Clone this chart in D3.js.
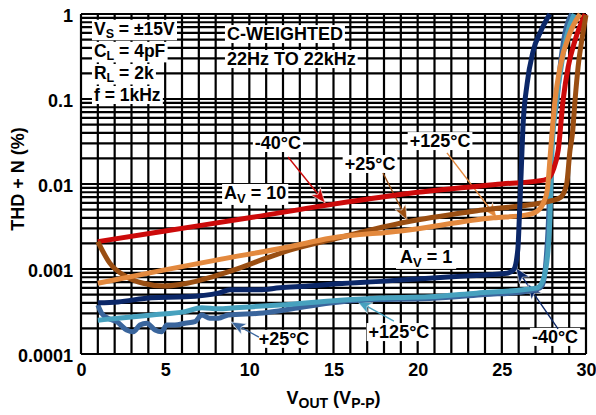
<!DOCTYPE html>
<html>
<head>
<meta charset="utf-8">
<script src="https://cdn.jsdelivr.net/npm/d3@7"></script>
<style>
  html, body { margin: 0; padding: 0; background: #fff; }
  svg { display: block; }
  text { font-family: "Liberation Sans", Arial, sans-serif; font-weight: bold; fill: #000; }
</style>
</head>
<body>
<svg id="chart" width="596" height="415"></svg>
<script>
// ---------- DATA ----------
const xTicks = [0, 5, 10, 15, 20, 25, 30];
const yTicks = [1, 0.1, 0.01, 0.001, 0.0001];
const yTickLabels = ["1", "0.1", "0.01", "0.001", "0.0001"];

// AV = 10, -40°C (red)
const red40X = [1, 5, 10, 15, 20, 25, 27.5, 27.8, 28.05, 28.35, 28.64, 28.94, 29.35, 29.95];
const red40Y = [0.0021, 0.0028, 0.0040, 0.0058, 0.0080, 0.0100, 0.0111, 0.0118, 0.0146, 0.025, 0.097, 0.238, 0.49, 1.0];

// AV = 10, +25°C (brown)
const brown25X = [1, 1.7, 2.7, 3.7, 4.9, 6.3, 7.8, 9.45, 11.05, 12.4, 14.8, 19.4, 23.7, 28.0, 28.5, 28.85, 29.05, 29.2, 29.35, 29.53, 29.82, 30.0];
const brown25Y = [0.0021, 0.00118, 0.00081, 0.00068, 0.00063, 0.00068, 0.00081, 0.00103, 0.00135, 0.00167, 0.0022, 0.0036, 0.0049, 0.0064, 0.0070, 0.0100, 0.025, 0.04, 0.097, 0.238, 0.6, 0.97];

// AV = 10, +125°C (orange)
const orange125X = [1, 4.9, 8.1, 12.4, 14.8, 19, 24.5, 26.4, 27.1, 27.5, 27.7, 27.9, 28.16, 28.46, 29.05, 29.65];
const orange125Y = [0.00068, 0.00097, 0.00128, 0.00183, 0.0023, 0.0028, 0.0040, 0.0043, 0.0048, 0.0062, 0.0085, 0.025, 0.097, 0.238, 0.6, 1.0];

// AV = 1, -40°C (navy)
const navy40X = [1, 2.2, 4.2, 6.2, 8.16, 8.85, 10.6, 11.8, 13.5, 15.2, 18, 20.7, 23, 25.3, 25.7, 25.95, 26.05, 26.15, 26.25, 26.5, 26.85, 27.3, 27.85];
const navy40Y = [0.00040, 0.00041, 0.00046, 0.00047, 0.00052, 0.00057, 0.00057, 0.0006, 0.00063, 0.00067, 0.00072, 0.00078, 0.00083, 0.00089, 0.00098, 0.0017, 0.0045, 0.014, 0.045, 0.15, 0.36, 0.62, 1.0];

// AV = 1, +25°C (mid blue)
const blue25X = [1, 1.23, 1.62, 2.12, 2.71, 3.11, 3.5, 3.9, 4.4, 4.79, 5.09, 5.58, 6.18, 6.77, 7.17, 7.66, 8.16, 8.75, 10.81, 12.83, 14.79, 16.75, 20.7, 24, 26.3, 27.1, 27.4, 27.6, 27.75, 27.9, 28.0, 28.28, 28.46, 28.75, 29.15];
const blue25Y = [0.000377, 0.000301, 0.000263, 0.00024, 0.000192, 0.000183, 0.000219, 0.00023, 0.000192, 0.000183, 0.000219, 0.000219, 0.00023, 0.00024, 0.000288, 0.000263, 0.000263, 0.000288, 0.000303, 0.000348, 0.000398, 0.000432, 0.00045, 0.0005, 0.00054, 0.00058, 0.00064, 0.0011, 0.003, 0.015, 0.04, 0.097, 0.238, 0.6, 1.0];

// AV = 1, +125°C (teal)
const teal125X = [1, 2.2, 4.2, 6.18, 7.17, 8.16, 9.15, 11.82, 15.39, 17.76, 20.7, 23.5, 26.26, 27.1, 27.45, 27.75, 27.86, 27.98, 28.2, 28.5, 28.85, 29.3];
const teal125Y = [0.00025, 0.000263, 0.000288, 0.000315, 0.00035, 0.00034, 0.00035, 0.000377, 0.00043, 0.000456, 0.00047, 0.00052, 0.00057, 0.0006, 0.00074, 0.0017, 0.0041, 0.025, 0.08, 0.22, 0.55, 1.0];

// ---------- LAYOUT ----------
const svg = d3.select("#chart");
const W = 596, H = 415;
const m = { left: 81, right: 10, top: 14, bottom: 61 };
const x = d3.scaleLinear().domain([0, 30]).range([m.left, W - m.right]);
const y = d3.scaleLog().domain([0.0001, 1]).range([H - m.bottom, m.top]);

svg.append("rect").attr("width", W).attr("height", H).attr("fill", "#fff");

// grid
const grid = svg.append("g");
const vLines = d3.range(0, 31);
grid.selectAll("line.v").data(vLines).join("line")
  .attr("x1", d => x(d)).attr("x2", d => x(d))
  .attr("y1", y(0.0001)).attr("y2", y(1))
  .attr("stroke", "#000").attr("stroke-width", 2.2);
const hLines = [];
for (let e = -4; e < 0; e++) for (let k = 1; k <= 9; k++) hLines.push(k * Math.pow(10, e));
hLines.push(1);
grid.selectAll("line.h").data(hLines).join("line")
  .attr("x1", x(0)).attr("x2", x(30))
  .attr("y1", d => y(d)).attr("y2", d => y(d))
  .attr("stroke", "#000").attr("stroke-width", 2.2);

// axes labels
const yAxis = d3.axisLeft(y).tickValues(yTicks).tickFormat((d, i) => yTickLabels[i]).tickSize(0).tickPadding(8);
const gy = svg.append("g").attr("transform", `translate(${m.left},0)`).call(yAxis);
gy.select(".domain").remove();
gy.selectAll("text").attr("font-size", 18).attr("font-family", '"Liberation Sans", Arial, sans-serif').attr("font-weight", "bold").attr("fill", "#000").attr("dy", "0.4em");

const xAxis = d3.axisBottom(x).tickValues(xTicks).tickFormat(d3.format("d")).tickSize(0).tickPadding(8);
const gx = svg.append("g").attr("transform", `translate(0,${y(0.0001)})`).call(xAxis);
gx.select(".domain").remove();
gx.selectAll("text").attr("font-size", 18).attr("font-family", '"Liberation Sans", Arial, sans-serif').attr("font-weight", "bold").attr("fill", "#000").attr("dy", "0.75em");

// helper for text with subscripts
function richText(g, parts, px, py, anchor, size, subSize, shift) {
  const sh = shift == null ? 4 : shift;
  const t = g.append("text").attr("x", px).attr("y", py).attr("text-anchor", anchor || "start").attr("font-size", size || 18);
  let shifted = false;
  parts.forEach(p => {
    const sub = Array.isArray(p);
    const s = sub ? p[0] : p;
    const ts = t.append("tspan").text(s);
    if (sub && !shifted) { ts.attr("dy", sh).attr("font-size", subSize || 13); shifted = true; }
    else if (sub) { ts.attr("font-size", subSize || 13); }
    else if (!sub && shifted) { ts.attr("dy", -sh); shifted = false; }
  });
  return t;
}
function boxed(g, parts, px, py, anchor, size, subSize, pad, shift) {
  const bg = g.append("rect").attr("fill", "#fff");
  const t = richText(g, parts, px, py, anchor, size, subSize, shift);
  const b = t.node().getBBox();
  const p = pad == null ? 2 : pad;
  bg.attr("x", b.x - p).attr("y", b.y + 1).attr("width", b.width + 2 * p).attr("height", b.height - 2);
  return t;
}

const ann = svg.append("g");
// top-left conditions block
boxed(ann, ["V", ["S"], " = ±15V"], x(0.77), y(0.57), "start", 17.5, 12.5, 2, 3.5);
boxed(ann, ["C", ["L"], " = 4pF"], x(0.77), y(0.313), "start", 17.5, 12.5, 2, 3.5);
boxed(ann, ["R", ["L"], " = 2k"], x(0.77), y(0.172), "start", 17.5, 12.5, 2, 3.5);
boxed(ann, ["f = 1kHz"], x(0.77), y(0.0947), "start", 17.5, 12.5, 2, 3.5);
boxed(ann, ["C-WEIGHTED"], x(8.67), y(0.494), "start");
boxed(ann, ["22Hz TO 22kHz"], x(8.67), y(0.251), "start");

// ---------- SERIES ----------
const line = d3.line().x(d => x(d[0])).y(d => y(d[1])).curve(d3.curveMonotoneX);
function drawSeries(xs, ys, color) {
  svg.append("path").datum(xs.map((v, i) => [v, ys[i]]))
    .attr("d", line).attr("fill", "none").attr("stroke", color)
    .attr("stroke-width", 5).attr("stroke-linejoin", "round").attr("stroke-linecap", "butt");
}
const C = { red: "#cc0a0a", brown: "#9a4e12", orange: "#e3893e", navy: "#0b2768", blue: "#3a659c", teal: "#47a1be" };
drawSeries(blue25X, blue25Y, C.blue);
drawSeries(teal125X, teal125Y, C.teal);
drawSeries(red40X, red40Y, C.red);
drawSeries(brown25X, brown25Y, C.brown);
drawSeries(orange125X, orange125Y, C.orange);
drawSeries(navy40X, navy40Y, C.navy);

// ---------- ANNOTATIONS ----------
function arrow(g, x1, v1, x2, v2, color, extraHeads) {
  const X1 = x(x1), Y1 = y(v1), X2 = x(x2), Y2 = y(v2);
  g.append("line").attr("x1", X1).attr("y1", Y1).attr("x2", X2).attr("y2", Y2)
    .attr("stroke", color).attr("stroke-width", 1.4);
  const ang = Math.atan2(Y2 - Y1, X2 - X1);
  const head = (tx, ty) => {
    const L = 15, Wd = 6;
    const bx = tx - L * Math.cos(ang), by = ty - L * Math.sin(ang);
    const nx = -Math.sin(ang) * Wd, ny = Math.cos(ang) * Wd;
    g.append("path").attr("d", `M${tx},${ty}L${bx + nx},${by + ny}L${bx + L * 0.25 * Math.cos(ang)},${by + L * 0.25 * Math.sin(ang)}L${bx - nx},${by - ny}Z`)
      .attr("fill", color).attr("stroke", "#fff").attr("stroke-width", 0.6);
  };
  head(X2, Y2);
  (extraHeads || []).forEach(h => head(x(h[0]), y(h[1])));
}

boxed(ann, ["-40°C"], x(11.7), y(0.0258), "middle");
arrow(ann, 12.3, 0.0208, 14.5, 0.00597, C.red);
boxed(ann, ["A", ["V"], " = 10"], x(8.5), y(0.00667), "start");
boxed(ann, ["+25°C"], x(17.17), y(0.01462), "middle");
arrow(ann, 17.94, 0.01346, 19.37, 0.00377, C.brown);
boxed(ann, ["+125°C"], x(21.33), y(0.0272), "middle");
arrow(ann, 21.74, 0.0232, 24.71, 0.00398, C.orange);
boxed(ann, ["A", ["V"], " = 1"], x(18.95), y(0.00118), "start", 18, 13, 4);
boxed(ann, ["+25°C"], x(12.06), y(0.000128), "middle");
arrow(ann, 10.57, 0.000158, 8.91, 0.000238, C.blue);
boxed(ann, ["+125°C"], x(18.89), y(0.000154), "middle");
arrow(ann, 18.59, 0.000244, 16.4, 0.000421, C.teal);
boxed(ann, ["-40°C"], x(28.16), y(0.000135), "middle");
arrow(ann, 28.34, 0.000197, 25.84, 0.00103, C.navy, [[26.55, 0.000666]]);

// axis titles
richText(svg, ["V", ["OUT"], " (V", ["P-P"], ")"], (x(0) + x(30)) / 2, 404, "middle", 18, 14);
svg.append("text").attr("transform", `translate(24,${(y(1) + y(0.0001)) / 2 - 5}) rotate(-90)`)
  .attr("text-anchor", "middle").attr("font-size", 18).text("THD + N (%)");
</script>
</body>
</html>
